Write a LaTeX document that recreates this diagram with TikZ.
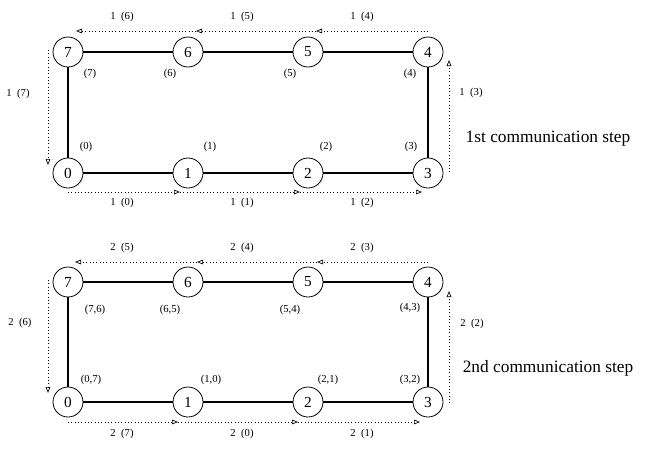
\documentclass[tikz,border=0pt]{standalone}
\usepackage{fontspec}
\setmainfont{Liberation Serif}
\usetikzlibrary{arrows.meta}
\begin{document}
\begin{tikzpicture}[x=0.75pt,y=0.75pt,yscale=-1,xscale=1,
    proc/.style={draw,circle,line width=0.6pt,minimum size=22.5pt,inner sep=0pt,fill=white,font=\fontsize{11.5}{13}\selectfont},
    link/.style={line width=1.3pt},
    msg/.style={dotted,line width=0.5pt,-{Triangle[open,length=4.5pt,width=3.5pt]}},
    lbl/.style={font=\fontsize{8}{9}\selectfont,inner sep=0pt},
    steptext/.style={font=\fontsize{13}{15}\selectfont,inner sep=0pt}]
%set diagram left start at 0, and has size 648 x 450
\useasboundingbox (0,0) rectangle (648,450);

% ---------- 1st communication step ----------
%Circles
\node (p7) at (68,52) [proc] {7};
\node (p6) at (188,52) [proc] {6};
\node (p5) at (308,52) [proc] {5};
\node (p4) at (428,52) [proc] {4};
\node (p0) at (68,173) [proc] {0};
\node (p1) at (188,173) [proc] {1};
\node (p2) at (308,173) [proc] {2};
\node (p3) at (428,173) [proc] {3};
%Straight Lines
\draw [link] (p0) -- (p1) -- (p2) -- (p3) -- (p4) -- (p5) -- (p6) -- (p7) -- (p0);
%Dotted arrows
\coordinate (t4) at (428,31); \coordinate (t5) at (316,31);
\coordinate (t6) at (196,31); \coordinate (t7) at (76,31);
\coordinate (l7) at (48,50); \coordinate (l0) at (48,165);
\coordinate (b0) at (68,192); \coordinate (b1) at (180,192);
\coordinate (b2) at (300,192); \coordinate (b3) at (422,192);
\coordinate (r3) at (449,172); \coordinate (r4) at (449,60);
\draw [msg] (t4) -- (t5);
\draw [msg] (t5) -- (t6);
\draw [msg] (t6) -- (t7);
\draw [msg] (l7) -- (l0);
\draw [msg] (b0) -- (b1);
\draw [msg] (b1) -- (b2);
\draw [msg] (b2) -- (b3);
\draw [msg] (r3) -- (r4);
% Text Node
\node (m6) at (122,17) [lbl] {1\ \ (6)};
\node (m5) at (242,17) [lbl] {1\ \ (5)};
\node (m4) at (362,17) [lbl] {1\ \ (4)};
\node (m7) at (18,94) [lbl] {1\ \ (7)};
\node (m3) at (471,93) [lbl] {1\ \ (3)};
\node (m0) at (122,203) [lbl] {1\ \ (0)};
\node (m1) at (242,203) [lbl] {1\ \ (1)};
\node (m2) at (362,203) [lbl] {1\ \ (2)};
% Text Node
\node (d7) at (90,74) [lbl] {(7)};
\node (d6) at (170,74) [lbl] {(6)};
\node (d5) at (290,74) [lbl] {(5)};
\node (d4) at (410,74) [lbl] {(4)};
\node (d0) at (86,147) [lbl] {(0)};
\node (d1) at (210,147) [lbl] {(1)};
\node (d2) at (326,147) [lbl] {(2)};
\node (d3) at (411,147) [lbl] {(3)};
% Text Node
\node (s1) at (548,139) [steptext] {1st communication step};

% ---------- 2nd communication step ----------
%Circles
\node (q7) at (68,282) [proc] {7};
\node (q6) at (188,282) [proc] {6};
\node (q5) at (308,282) [proc] {5};
\node (q4) at (428,282) [proc] {4};
\node (q0) at (68,402) [proc] {0};
\node (q1) at (188,402) [proc] {1};
\node (q2) at (308,402) [proc] {2};
\node (q3) at (428,402) [proc] {3};
%Straight Lines
\draw [link] (q0) -- (q1) -- (q2) -- (q3) -- (q4) -- (q5) -- (q6) -- (q7) -- (q0);
%Dotted arrows
\coordinate (u4) at (428,262); \coordinate (u5) at (317,262);
\coordinate (u6) at (197,262); \coordinate (u7) at (75,262);
\coordinate (k7) at (48,280); \coordinate (k0) at (48,393);
\coordinate (c0) at (68,422); \coordinate (c1) at (178,422);
\coordinate (c2) at (298,422); \coordinate (c3) at (420,422);
\coordinate (v3) at (449,403); \coordinate (v4) at (449,291);
\draw [msg] (u4) -- (u5);
\draw [msg] (u5) -- (u6);
\draw [msg] (u6) -- (u7);
\draw [msg] (k7) -- (k0);
\draw [msg] (c0) -- (c1);
\draw [msg] (c1) -- (c2);
\draw [msg] (c2) -- (c3);
\draw [msg] (v3) -- (v4);
% Text Node
\node (n5) at (122,248) [lbl] {2\ \ (5)};
\node (n4) at (242,248) [lbl] {2\ \ (4)};
\node (n3) at (362,248) [lbl] {2\ \ (3)};
\node (n6) at (20,323) [lbl] {2\ \ (6)};
\node (n2) at (472,324) [lbl] {2\ \ (2)};
\node (n7) at (122,434) [lbl] {2\ \ (7)};
\node (n0) at (242,434) [lbl] {2\ \ (0)};
\node (n1) at (362,434) [lbl] {2\ \ (1)};
% Text Node
\node (e7) at (95,310) [lbl] {(7,6)};
\node (e6) at (170,310) [lbl] {(6,5)};
\node (e5) at (290,310) [lbl] {(5,4)};
\node (e4) at (410,308) [lbl] {(4,3)};
\node (e0) at (91,380) [lbl] {(0,7)};
\node (e1) at (211,380) [lbl] {(1,0)};
\node (e2) at (328,380) [lbl] {(2,1)};
\node (e3) at (410,380) [lbl] {(3,2)};
% Text Node
\node (s2) at (548,368) [steptext] {2nd communication step};
\end{tikzpicture}
\end{document}
